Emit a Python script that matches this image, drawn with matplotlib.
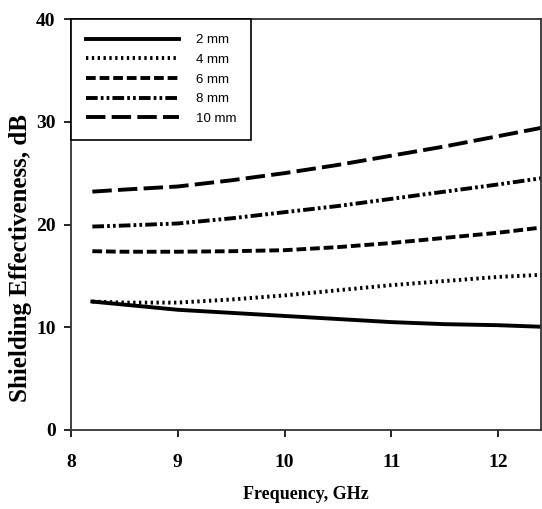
import matplotlib
matplotlib.use('Agg')
from matplotlib import pyplot as plt

# frequency, GHz
freq = [8.2, 8.5, 9.0, 9.5, 10.0, 10.5, 11.0, 11.5, 12.0, 12.4]

# shielding effectiveness, dB, per thickness
se_2mm = [12.5, 12.2, 11.7, 11.4, 11.1, 10.8, 10.5, 10.3, 10.2, 10.05]
se_4mm = [12.5, 12.4, 12.4, 12.7, 13.1, 13.6, 14.1, 14.5, 14.9, 15.1]
se_6mm = [17.4, 17.35, 17.35, 17.4, 17.5, 17.8, 18.2, 18.7, 19.2, 19.7]
se_8mm = [19.8, 19.9, 20.1, 20.6, 21.2, 21.8, 22.5, 23.2, 23.9, 24.5]
se_10mm = [23.2, 23.4, 23.7, 24.3, 25.0, 25.8, 26.7, 27.6, 28.6, 29.4]

labels = ['2 mm', '4 mm', '6 mm', '8 mm', '10 mm']

fig = plt.figure(figsize=(5.42, 5.09), dpi=100)
ax = fig.add_axes([71 / 542, 1 - 430 / 509, 470 / 542, 411 / 509])

lw = 2.8
ax.plot(freq, se_2mm, color='k', lw=lw, ls='-', label=labels[0])
ax.plot(freq, se_4mm, color='k', lw=lw, ls=(0, (0.6, 0.9)), label=labels[1])
ax.plot(freq, se_6mm, color='k', lw=lw, ls=(0, (2.5, 1.0)), label=labels[2])
ax.plot(freq, se_8mm, color='k', lw=lw, ls=(0, (3, 0.8, 0.7, 0.8, 0.7, 0.8)), label=labels[3])
ax.plot(freq, se_10mm, color='k', lw=lw, ls=(0, (5, 1.6)), label=labels[4])

ax.set_xlim(8, 12.4)
ax.set_ylim(0, 40)
ax.set_xticks([8, 9, 10, 11, 12])
ax.set_yticks([0, 10, 20, 30, 40])

serif = ['Liberation Serif', 'DejaVu Serif']
ax.tick_params(direction='out', length=5, width=1.2, labelsize=14)
ax.tick_params(axis='x', pad=12)
ax.tick_params(axis='y', pad=6)
for t in ax.get_xticklabels() + ax.get_yticklabels():
    t.set_fontfamily(serif)
    t.set_fontweight('bold')
for s in ax.spines.values():
    s.set_linewidth(1.3)
    s.set_color('#333333')

ax.set_xlabel('Frequency, GHz', fontsize=13, fontweight='bold', family=serif, va='center')
ax.xaxis.set_label_coords(0.5, -0.158)
ax.set_ylabel('Shielding Effectiveness, dB', fontsize=18, fontweight='bold', family=serif, va='center')
ax.yaxis.set_label_coords(-0.108, 0.418)

leg = ax.legend(loc='upper left', borderaxespad=0, fancybox=False, framealpha=1,
                edgecolor='k', handlelength=7.0, handletextpad=1.3, labelspacing=0.56,
                prop={'family': 'Liberation Sans', 'size': 9.5}, borderpad=1.15)
leg.get_frame().set_linewidth(1.2)

fig.savefig('out.png', dpi=100)
